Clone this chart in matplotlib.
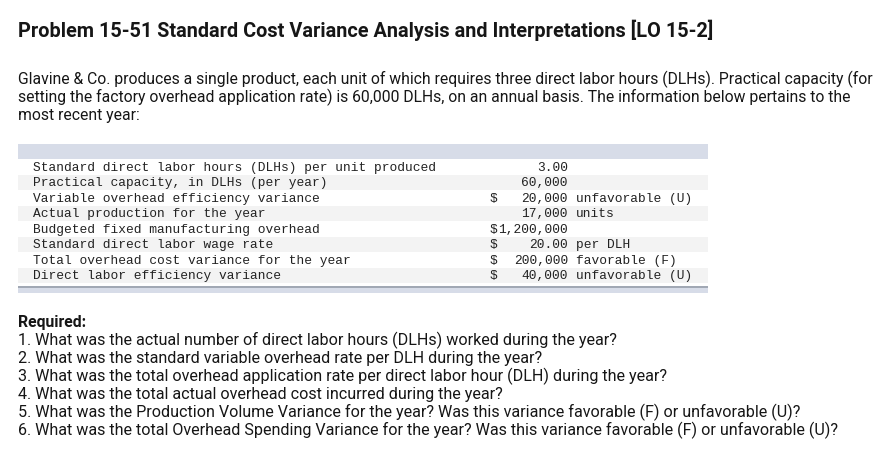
"""Problem statement card: heading, intro paragraph, data table, questions."""
import matplotlib

matplotlib.use("Agg")
import matplotlib.pyplot as plt
from matplotlib.patches import Rectangle

W, H = 886, 461

TITLE = "Problem 15-51 Standard Cost Variance Analysis and Interpretations [LO 15-2]"

INTRO_LINES = [
    "Glavine & Co. produces a single product, each unit of which requires three direct labor hours (DLHs). Practical capacity (for",
    "setting the factory overhead application rate) is 60,000 DLHs, on an annual basis. The information below pertains to the",
    "most recent year:",
]

ROW_LABELS = [
    "Standard direct labor hours (DLHs) per unit produced",
    "Practical capacity, in DLHs (per year)",
    "Variable overhead efficiency variance",
    "Actual production for the year",
    "Budgeted fixed manufacturing overhead",
    "Standard direct labor wage rate",
    "Total overhead cost variance for the year",
    "Direct labor efficiency variance",
]
ROW_VALUES = [3.00, 60000, 20000, 17000, 1200000, 20.00, 200000, 40000]
ROW_DECIMALS = [2, 0, 0, 0, 0, 2, 0, 0]
ROW_DOLLAR = [False, False, True, False, True, True, True, True]
ROW_SUFFIX = ["", "", "unfavorable (U)", "units", "", "per DLH", "favorable (F)", "unfavorable (U)"]

REQUIRED_HEAD = "Required:"
QUESTIONS = [
    "1. What was the actual number of direct labor hours (DLHs) worked during the year?",
    "2. What was the standard variable overhead rate per DLH during the year?",
    "3. What was the total overhead application rate per direct labor hour (DLH) during the year?",
    "4. What was the total actual overhead cost incurred during the year?",
    "5. What was the Production Volume Variance for the year? Was this variance favorable (F) or unfavorable (U)?",
    "6. What was the total Overhead Spending Variance for the year? Was this variance favorable (F) or unfavorable (U)?",
]

TEXT = "#161616"
BAND = "#d7dce8"
STRIPE = "#f3f3f3"
RULE = "#8f97a5"
SANS = "Roboto"
MONO = "Liberation Mono"


def fit_size(ax, renderer, text, target_w, **kw):
    """Font size (pt) at which `text` is target_w pixels wide."""
    t = ax.text(0, 0, text, fontsize=10, **kw)
    w = t.get_window_extent(renderer).width
    t.remove()
    return 10 * target_w / w


fig = plt.figure(figsize=(W / 100, H / 100), dpi=100)
ax = fig.add_axes([0, 0, 1, 1])
ax.set_xlim(0, W)
ax.set_ylim(H, 0)
ax.axis("off")
renderer = fig.canvas.get_renderer()

# heading
x0 = 18
size = fit_size(ax, renderer, TITLE, 712 - x0, family=SANS, weight="bold")
ax.text(x0, 37, TITLE, fontsize=size, family=SANS, weight="bold", color=TEXT, va="baseline")

# intro paragraph
size = fit_size(ax, renderer, INTRO_LINES[0], 871 - x0, family=SANS)
for i, line in enumerate(INTRO_LINES):
    ax.text(x0, 84 + 18 * i, line, fontsize=size, family=SANS, color=TEXT, va="baseline")

# data table
tab_l, tab_r = 18, 708
row_h = 15.5
top = 159
ax.add_patch(Rectangle((tab_l, 144), tab_r - tab_l, top - 144, color=BAND, lw=0))
mono_size = 7.77 / 0.6 * 72 / 100
for i, label in enumerate(ROW_LABELS):
    y = top + row_h * i
    if i % 2 == 1:
        ax.add_patch(Rectangle((tab_l, y), tab_r - tab_l, row_h, color=STRIPE, lw=0))
    base = y + 11.5
    kw = dict(fontsize=mono_size, family=MONO, color="#222222", va="baseline")
    ax.text(33, base, label, **kw)
    num = f"{ROW_VALUES[i]:,.{ROW_DECIMALS[i]}f}"
    ax.text(568, base, num, ha="right", **kw)
    if ROW_DOLLAR[i]:
        ax.text(490, base, "$", **kw)
    if ROW_SUFFIX[i]:
        ax.text(576, base, ROW_SUFFIX[i], **kw)
bottom = top + row_h * len(ROW_LABELS) + 3
ax.add_patch(Rectangle((tab_l, bottom + 1.5), tab_r - tab_l, 5, color=BAND, lw=0))
ax.plot([tab_l, tab_r], [bottom + 1, bottom + 1], color=RULE, lw=1.2, solid_capstyle="butt")

# questions
ax.text(x0, 327, REQUIRED_HEAD, fontsize=size, family=SANS, weight="bold", color=TEXT, va="baseline")
qsize = fit_size(ax, renderer, QUESTIONS[5], 839 - x0, family=SANS)
for i, q in enumerate(QUESTIONS):
    ax.text(x0, 345 + 18 * i, q, fontsize=qsize, family=SANS, color=TEXT, va="baseline")

fig.savefig("out.png", dpi=100, facecolor="white")
